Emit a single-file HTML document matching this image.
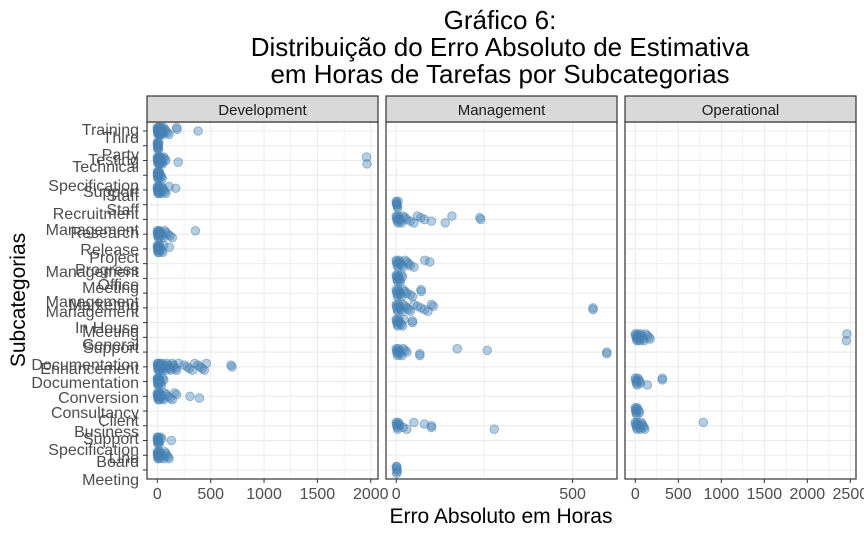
<!DOCTYPE html>
<html><head><meta charset="utf-8"><style>
body{margin:0;background:#fff;}
svg{display:block;font-family:"Liberation Sans",sans-serif;}
</style></head><body>
<svg id="chart" width="864" height="533" viewBox="0 0 864 533">
<g font-size="26" fill="#000" text-anchor="middle">
<text x="500" y="29">Gráfico 6:</text>
<text x="500" y="56">Distribuição do Erro Absoluto de Estimativa</text>
<text x="500" y="83">em Horas de Tarefas por Subcategorias</text>
</g>
<text transform="translate(25,300) rotate(-90)" text-anchor="middle" font-size="21">Subcategorias</text>
<text x="501" y="523" text-anchor="middle" font-size="21">Erro Absoluto em Horas</text>
<g id="ylabels" font-size="16" fill="#4d4d4d" text-anchor="end"></g>
<g id="panels"></g>
</svg>
<script>
const categories=["Training","Third Party","Testing","Technical Specification","Support Staff","Staff Management","Staff Recruitment","Research Management","Release","Project","Progress Management","Office Meeting","Management Marketing","Management","In House Meeting","General Support","Documentation Enhancement","Documentation","Conversion","Consultancy","Client Business","Support Specification","Line Board","Meeting"];
const panelNames=["Development","Management","Operational"];
const devRows=[0,1,2,3,4,7,8,16,17,18,21,22];
const devValues=[
[0,1,2,3,5,6,8,10,12,14,16,18,20,22,24,26,28,30,33,35,38,40,45,50,55,60,70,80,95,110,180,185,382],
[0,1,2,3,4,5,6,8,10,12,15],
[0,1,2,4,6,8,10,12,14,16,18,20,22,25,28,30,35,40,45,50,60,70,80,195,1965,1960],
[0,1,2,3,5,6,8,10,12,14,18,24,30,38,45],
[0,1,2,4,6,8,10,12,14,16,18,20,25,30,35,40,50,60,70,80,110,172],
[0,1,2,5,8,10,12,15,18,20,25,30,40,50,60,70,80,100,120,140,357],
[0,1,2,4,6,8,10,12,14,16,20,25,30,40,50,60,112],
[0,2,4,5,8,10,12,15,18,20,25,30,35,40,45,50,55,60,70,80,90,100,110,120,130,140,150,160,170,180,200,250,280,300,330,350,380,400,420,440,460,690,700],
[0,1,2,3,5,6,8,10,12,14,18,22,26,30,40,50,60],
[0,1,2,5,8,10,12,15,18,20,25,30,40,50,60,70,80,100,120,140,160,180,306,394],
[0,1,2,4,5,8,10,12,15,20,30,40,131],
[0,1,2,4,5,8,10,12,15,20,25,30,40,50,60,70,80,90,100,110]];
const mgmtRows=[5,6,9,10,11,12,13,15,20,23];
const mgmtValues=[
[0,1,2,3,4,5,1,2],
[0,1,2,3,5,6,8,10,12,15,20,25,30,40,50,60,70,80,100,139,158,237,240],
[0,1,2,3,5,8,10,12,15,20,25,30,35,40,50,81,95],
[0,1,2,3,4,5,6,8,10,12,14,18],
[0,1,2,3,4,6,8,10,12,16,20,25,30,40,46,70,71],
[0,1,2,3,4,6,8,10,12,16,20,25,30,35,40,50,60,70,80,90,100,105,558,558],
[0,1,2,3,4,6,8,10,14,18,22,46,46],
[0,1,2,3,4,6,8,10,12,16,20,25,30,67,67,173,258,597,597],
[0,1,2,3,4,6,8,10,20,30,50,80,100,100,278],
[0,1,2,3,1,2]];
const operRows=[14,17,19,20];
const operValues=[
[0,5,10,15,20,25,30,35,40,50,60,70,80,90,100,120,140,160,171,2454,2460],
[0,5,10,15,20,30,40,50,60,140,314,314],
[0,3,5,10,15,20,30,40,50],
[0,5,10,15,20,25,30,40,50,60,70,80,90,100,110,791]];
const xTicks=[[0,500,1000,1500,2000],[0,500],[0,500,1000,1500,2000,2500]];
const yLabelLines=[["Training",130],["Third",138],["Party",155],["Testing",160],["Technical",167],["Specification",186],["Support",192],["Staff",196],["Staff",210],["Recruitment",214],["Management",230],["Research",233],["Release",250],["Project",258],["Progress",270],["Management",272],["Office",285],["Meeting",288],["Management",302],["Marketing",305],["Management",312],["In House",328],["Meeting",332],["General",345],["Support",348],["Documentation",365],["Enhancement",369],["Documentation",383],["Conversion",398],["Consultancy",413],["Client",421],["Business",432],["Support",439],["Specification",450],["Line",458],["Board",462],["Meeting",480]];

(function(){
const NS="http://www.w3.org/2000/svg";
function mk(t,a,p){const e=document.createElementNS(NS,t);for(const k in a)e.setAttribute(k,a[k]);p.appendChild(e);return e;}
const pTop=122,pBottom=479;
function yScale(i){return 131+i*(470-131)/(categories.length-1);}
const panelBox=[[147,378,-97,2068],[386,617,-29,626],[625,856,-120,2566]];
const allRows=[devRows,mgmtRows,operRows],allVals=[devValues,mgmtValues,operValues];
const yl=document.getElementById('ylabels');
yLabelLines.forEach(l=>{const t=mk('text',{x:139,y:l[1]+5},yl);t.textContent=l[0];});
const P=document.getElementById('panels');
for(let p=0;p<3;p++){
 const [x0,x1,d0,d1]=panelBox[p];
 const xs=v=>x0+(v-d0)/(d1-d0)*(x1-x0);
 const g=mk('g',{},P);
 
 
 mk('rect',{x:x0,y:pTop,width:x1-x0,height:pBottom-pTop,fill:'#fff'},g);
 for(let v=0;v<=d1;v+=250){ mk('line',{x1:xs(v),x2:xs(v),y1:pTop,y2:pBottom,stroke:'#ebebeb','stroke-width':(v%500===0)?1.1:0.6},g);}
 categories.forEach((c,i)=>{mk('line',{x1:x0,x2:x1,y1:yScale(i),y2:yScale(i),stroke:'#ebebeb','stroke-width':1.1},g);});
 allRows[p].forEach((r,k)=>{allVals[p][k].forEach((v,j)=>{
  const c=mk('circle',{cx:xs(v),cy:yScale(r)+((j%5)-2)*1.7,r:4.3,fill:'steelblue','fill-opacity':0.4,stroke:'steelblue','stroke-opacity':0.5},g);
  
  
 });});
 mk('rect',{x:x0,y:pTop,width:x1-x0,height:pBottom-pTop,fill:'none',stroke:'#333','stroke-width':1.2},g);
 const s=mk('rect',{x:x0,y:96,width:x1-x0,height:26,fill:'#d9d9d9',stroke:'#333','stroke-width':1.2},g);
 
 
 const st=mk('text',{x:(x0+x1)/2,y:115,'text-anchor':'middle','font-size':15,fill:'#1a1a1a'},g);
 st.textContent=panelNames[p];
 xTicks[p].forEach(v=>{
  mk('line',{x1:xs(v),x2:xs(v),y1:pBottom,y2:pBottom+4,stroke:'#333'},g);
  const t=mk('text',{x:xs(v),y:pBottom+20,'text-anchor':'middle','font-size':16,fill:'#4d4d4d'},g);
  
  
  t.textContent=v;
 });
}
categories.forEach((c,i)=>{mk('line',{x1:143,x2:147,y1:yScale(i),y2:yScale(i),stroke:'#333'},P);});
})();
</script>
</body></html>
